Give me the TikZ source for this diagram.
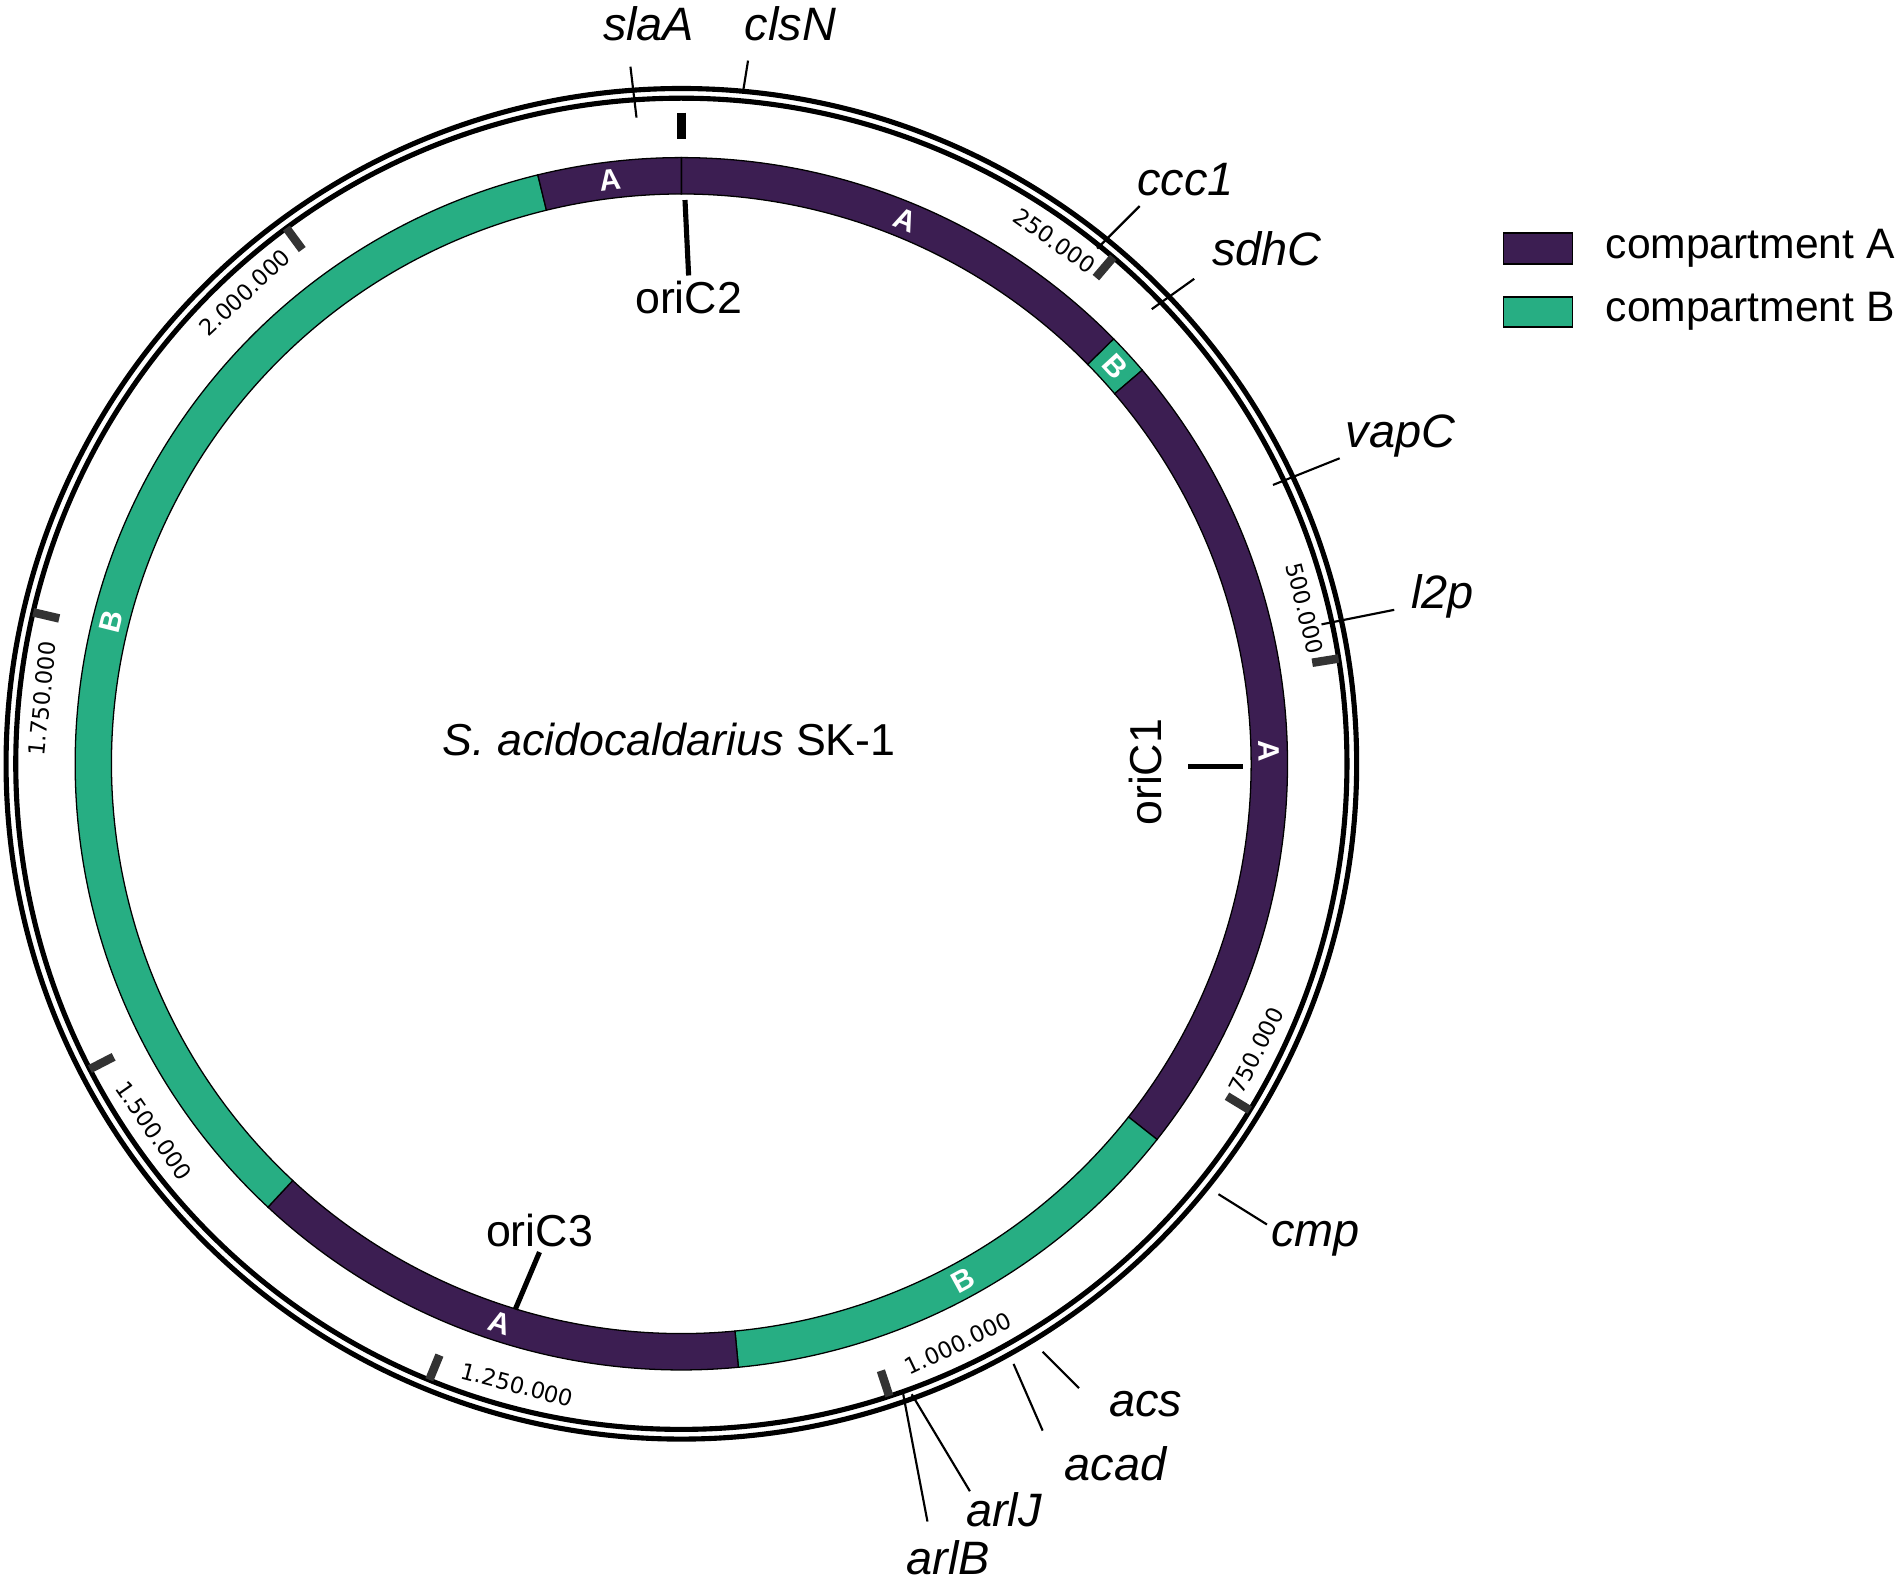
\documentclass[tikz,border=0pt]{standalone}
\usepackage{fontspec}
\setmainfont{Liberation Sans}
\newfontfamily\dejavu{DejaVu Sans}
\usetikzlibrary{calc}
\definecolor{compA}{HTML}{3C1E52}
\definecolor{compB}{HTML}{27AE83}
\tikzstyle{gene}=[font=\fontsize{11}{11}\selectfont\itshape, inner sep=1pt]
\tikzstyle{lead}=[line width=0.5pt]
\tikzstyle{ori}=[font=\fontsize{10.5}{10.5}\selectfont, inner sep=1pt]
\tikzstyle{orimark}=[line width=1.2pt]
\tikzstyle{ticklabel}=[font=\dejavu\fontsize{5.3}{5.3}\selectfont, inner sep=0]
\tikzstyle{seglabel}=[white, font=\bfseries\fontsize{7}{7}\selectfont, inner sep=0]
\tikzstyle{legendbox}=[draw=black, line width=0.4pt]
\newcommand{\segment}[3]{% start angle, end angle, colour
  \filldraw[fill=#3, draw=black, line width=0.3pt]
    ($(C)+(90-#1:5cm)$) arc (90-#1:90-#2:5cm) -- ($(C)+(90-#2:4.7cm)$) arc (90-#2:90-#1:4.7cm) -- cycle;}
\begin{document}
\begin{tikzpicture}
\useasboundingbox (0,0) rectangle (15.68,13.07);
\coordinate (C) at (5.62,6.77);

% compartments
\segment{0}{45.5}{compA}
\segment{45.5}{49.5}{compB}
\segment{49.5}{128.3}{compA}
\segment{128.3}{174.6}{compB}
\segment{174.6}{223}{compA}
\segment{223}{346.3}{compB}
\segment{346.3}{360}{compA}
\foreach \a/\t in {353/A,22.4/A,47.5/B,88.8/A,151.4/B,198/A,284/B}{
  \pgfmathsetmacro\rot{(\a<=90 || \a>=270) ? -\a : 180-\a}
  \node[seglabel, rotate=\rot] at ($(C)+(90-\a:4.85cm)$) {\t};
}

% ring
\draw[line width=1.2pt] (C) circle (5.57cm);
\draw[line width=1.2pt] (C) circle (5.49cm);
\draw[line width=2pt] ($(C)+(90:5.37cm)$) -- ($(C)+(90:5.15cm)$);
\foreach \k/\a/\t in {1/35.5/250.000,2/76/500.000,3/116.5/750.000,4/154.5/1.000.000,5/194.8/1.250.000,6/235.2/1.500.000,7/275.8/1.750.000,8/317.2/2.000.000}{
  \pgfmathsetmacro\tk{\k*40.45}
  \draw[line width=2pt, black!80] ($(C)+(90-\tk:5.49cm)$) -- ($(C)+(90-\tk:5.27cm)$);
  \pgfmathsetmacro\rot{(\a<=90 || \a>=270) ? -\a : 180-\a}
  \node[ticklabel, rotate=\rot] at ($(C)+(90-\a:5.3cm)$) {\t};
}

% genes
\node[gene] (slaA) at (5.35,12.87) {slaA};
\node[gene] (clsN) at (6.52,12.87) {clsN};
\node[gene] (ccc1) at (9.78,11.59) {ccc1};
\node[gene] (sdhC) at (10.45,11.02) {sdhC};
\node[gene] (vapC) at (11.55,9.47) {vapC};
\node[gene] (l2p) at (11.90,8.15) {l2p};
\node[gene] (cmp) at (10.85,2.85) {cmp};
\node[gene] (acs) at (9.45,1.49) {acs};
\node[gene] (acad) at (9.20,1.00) {acad};
\node[gene] (arlJ) at (8.28,0.62) {arlJ};
\node[gene] (arlB) at (7.82,0.22) {arlB};
\draw[lead] (5.25,12.10) -- (5.20,12.52);
\draw[lead] (6.13,12.32) -- (6.17,12.57);
\draw[lead] (9.05,11.02) -- (9.40,11.37);
\draw[lead] (9.50,10.52) -- (9.85,10.77);
\draw[lead] (10.50,9.07) -- (11.05,9.29);
\draw[lead] (10.90,7.92) -- (11.50,8.04);
\draw[lead] (10.05,3.22) -- (10.45,2.97);
\draw[lead] (8.60,1.92) -- (8.90,1.62);
\draw[lead] (8.36,1.82) -- (8.60,1.27);
\draw[lead] (7.52,1.57) -- (8.00,0.77);
\draw[lead] (7.45,1.57) -- (7.65,0.52);

% origins
\node[ori] (oriC2) at (5.68,10.62) {oriC2};
\node[ori, rotate=90] (oriC1) at (9.45,6.70) {oriC1};
\node[ori] (oriC3) at (4.45,2.92) {oriC3};
\draw[orimark] (5.65,11.42) -- (oriC2.north);
\draw[orimark] (10.25,6.75) -- (9.80,6.75);
\draw[orimark] (4.25,2.27) -- (oriC3.south);

\node[font=\fontsize{10.5}{10.5}\selectfont] (title) at (5.52,6.97) {\textit{S. acidocaldarius} SK-1};

% legend
\draw[legendbox, fill=compA] (12.40,11.15) rectangle (12.97,10.89);
\draw[legendbox, fill=compB] (12.40,10.62) rectangle (12.97,10.37);
\node[anchor=west, font=\fontsize{10}{10}\selectfont] (legA) at (13.12,11.02) {compartment A};
\node[anchor=west, font=\fontsize{10}{10}\selectfont] (legB) at (13.12,10.50) {compartment B};
\end{tikzpicture}
\end{document}
